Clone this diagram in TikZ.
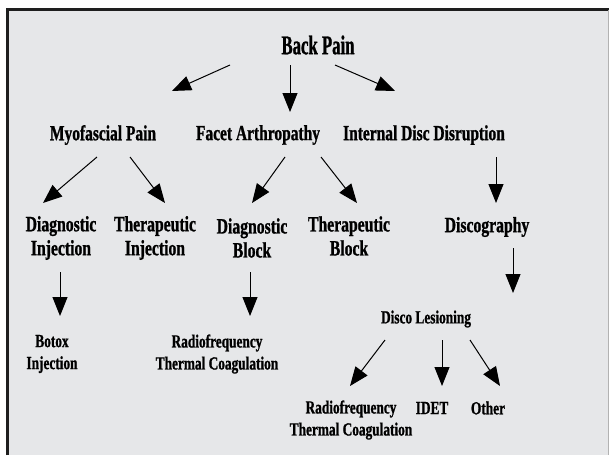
\documentclass[tikz,border=0pt]{standalone}
\usepackage{fontspec}
\usepackage{tikz}
\usetikzlibrary{calc,arrows.meta}
\newfontfamily\chartfont[FakeStretch=0.72,FakeBold=1]{Liberation Serif Bold}
\newfontfamily\titlefont[FakeStretch=0.62,FakeBold=1]{Liberation Serif Bold}
\definecolor{bp-panel}{HTML}{E6E7E9}
\definecolor{bp-frame}{HTML}{1E1E1E}
\begin{document}
\begin{tikzpicture}[
    x=1pt, y=-1pt,                 % pixel grid, y runs downwards
    >={Triangle[length=19pt,width=15pt]},
    font=\chartfont
  ]

  % Global Style Definitions
  \tikzset{
    title/.style={inner sep=0pt, font=\titlefont\fontsize{27}{30}\selectfont},
    branch/.style={inner sep=0pt, font=\chartfont\fontsize{21.5}{24}\selectfont},
    leaf/.style={inner sep=0pt, align=center, font=\chartfont\fontsize{21.8}{24}\selectfont},
    small/.style={inner sep=0pt, align=center, font=\chartfont\fontsize{18.5}{22}\selectfont},
    arr/.style={->, line width=1pt, black}
  }

  % Panel and frame
  \useasboundingbox (0,0) rectangle (609,455);
  \fill[white] (0,0) rectangle (609,455);
  \fill[bp-panel] (6,8) rectangle (609,455);
  \draw[bp-frame, line width=3pt] (7.5,455) -- (7.5,9.5) -- (609,9.5);
  \draw[gray!60, line width=0.8pt] (608.4,9.5) -- (608.4,455);

  % Top level
  \node (backpain) [title] at (318,45) {Back Pain};

  % Second level
  \node (myofascial) [branch] at (103,135) {Myofascial Pain};
  \node (facet) [branch] at (258,135) {Facet Arthropathy};
  \node (idd) [branch] at (424,135) {Internal Disc Disruption};

  % Third level
  \node (diaginj) [leaf] at (61,238) {Diagnostic\\Injection};
  \node (therinj) [leaf] at (155,238) {Therapeutic\\Injection};
  \node (diagblock) [leaf] at (252,238) {Diagnostic\\Block};
  \node (therblock) [leaf] at (349,236) {Therapeutic\\Block};
  \node (discography) [leaf] at (487,227) {Discography};

  % Fourth level
  \node (botox) [small] at (52,354) {Botox\\Injection};
  \node (rfleft) [small] at (217,354) {Radiofrequency\\Thermal Coagulation};
  \node (lesioning) [small] at (426,319) {Disco Lesioning};

  % Treatments of disc disruption
  \node (rfright) [small] at (351,420) {Radiofrequency\\Thermal Coagulation};
  \node (idet) [small] at (432,408) {IDET};
  \node (other) [small] at (488,408) {Other};

  % Arrows from Back Pain
  \draw[arr] ($(backpain)+(-88,20)$) -- ($(myofascial)+(69,-44)$);
  \draw[arr] ($(backpain)+(-28,20)$) -- ($(facet)+(32,-23)$);
  \draw[arr] ($(backpain)+(17,20)$) -- ($(idd)+(-29,-44)$);

  % Arrows into the third level
  \draw[arr] ($(myofascial)+(-6,22)$) -- ($(diaginj)+(-18,-35)$);
  \draw[arr] ($(myofascial)+(27,22)$) -- ($(therinj)+(10,-35)$);
  \draw[arr] ($(facet)+(27,22)$) -- ($(diagblock)+(0,-35)$);
  \draw[arr] ($(facet)+(63,22)$) -- ($(therblock)+(8,-33)$);
  \draw[arr] ($(idd)+(72,22)$) -- ($(discography)+(9,-24)$);

  % Arrows into the fourth level
  \draw[arr] ($(diaginj)+(-1,34)$) -- ($(botox)+(8,-38)$);
  \draw[arr] ($(diagblock)+(-2,34)$) -- ($(rfleft)+(33,-38)$);
  \draw[arr] ($(discography)+(26,21)$) -- ($(lesioning)+(87,-26)$);

  % Arrows from Disco Lesioning
  \draw[arr] ($(lesioning)+(-41,21)$) -- ($(rfright)+(-1,-34)$);
  \draw[arr] ($(lesioning)+(16,21)$) -- ($(idet)+(10,-22)$);
  \draw[arr] ($(lesioning)+(44,21)$) -- ($(other)+(12,-22)$);

\end{tikzpicture}
\end{document}
